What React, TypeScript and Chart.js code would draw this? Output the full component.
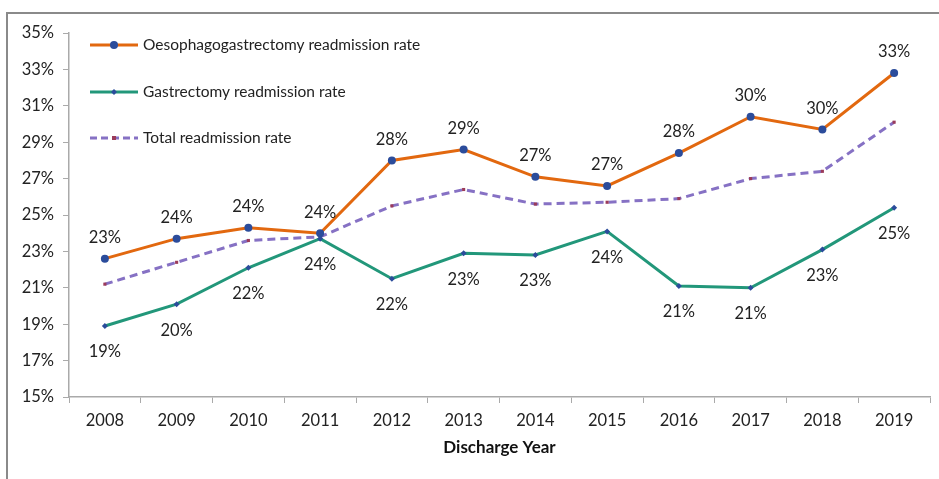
import React, { useEffect, useRef } from "react";
import { Chart, registerables } from "chart.js";

Chart.register(...registerables);

const years = ["2008","2009","2010","2011","2012","2013","2014","2015","2016","2017","2018","2019"];
const oesophago = [22.6, 23.7, 24.3, 24.0, 28.0, 28.6, 27.1, 26.6, 28.4, 30.4, 29.7, 32.8];
const gastrectomy = [18.9, 20.1, 22.1, 23.7, 21.5, 22.9, 22.8, 24.1, 21.1, 21.0, 23.1, 25.4];
const total = [21.2, 22.4, 23.6, 23.8, 25.5, 26.4, 25.6, 25.7, 25.9, 27.0, 27.4, 30.1];
const seriesNames = ["Oesophagogastrectomy readmission rate", "Gastrectomy readmission rate", "Total readmission rate"];

const FONT = "Lato, 'Open Sans', sans-serif";
const ORANGE = "#E2680F";
const GREEN = "#22977A";
const PURPLE = "#8671C4";
const MARKER = "#2B4C9B";
const MARKER2 = "#9B3B5A";

export default function App() {
  const ref = useRef<HTMLCanvasElement | null>(null);
  useEffect(() => {
    document.body.style.margin = "0";
    const framePlugin = {
      id: "frame",
      beforeDraw(chart: any) {
        const ctx = chart.ctx;
        ctx.save();
        ctx.strokeStyle = "#8a8a8a";
        ctx.lineWidth = 2;
        ctx.beginPath();
        ctx.moveTo(7, 479);
        ctx.lineTo(7, 13);
        ctx.lineTo(939, 13);
        ctx.stroke();
        ctx.restore();
      },
    };
    const labelPlugin = {
      id: "labels",
      afterDatasetsDraw(chart: any) {
        const ctx = chart.ctx;
        ctx.save();
        ctx.font = `16.5px ${FONT}`;
        ctx.fillStyle = "#222";
        ctx.textAlign = "center";
        ctx.textBaseline = "middle";
        [0, 1].forEach((di) => {
          const meta = chart.getDatasetMeta(di);
          const data = chart.data.datasets[di].data as number[];
          meta.data.forEach((pt: any, i: number) => {
            const txt = Math.round(data[i]) + "%";
            const y = di === 0 ? pt.y - 21 : pt.y + 26;
            ctx.fillText(txt, pt.x, y);
          });
        });
        ctx.restore();
      },
    };
    const legendPlugin = {
      id: "customLegend",
      afterDraw(chart: any) {
        const ctx = chart.ctx;
        const ys = [45, 92, 138];
        const colors = [ORANGE, GREEN, PURPLE];
        ctx.save();
        ys.forEach((y, i) => {
          ctx.strokeStyle = colors[i];
          ctx.lineWidth = 3;
          ctx.setLineDash(i === 2 ? [7, 4] : []);
          ctx.beginPath();
          ctx.moveTo(90, y);
          ctx.lineTo(138, y);
          ctx.stroke();
          ctx.setLineDash([]);
          if (i === 0) {
            ctx.fillStyle = MARKER;
            ctx.beginPath();
            ctx.arc(114, y, 4, 0, Math.PI * 2);
            ctx.fill();
          } else if (i === 1) {
            ctx.fillStyle = MARKER;
            ctx.beginPath();
            ctx.moveTo(114, y - 3);
            ctx.lineTo(117, y);
            ctx.lineTo(114, y + 3);
            ctx.lineTo(111, y);
            ctx.closePath();
            ctx.fill();
          } else {
            ctx.fillStyle = MARKER2;
            ctx.fillRect(112, y - 2, 4, 4);
          }
          ctx.fillStyle = "#222";
          ctx.font = `15.5px ${FONT}`;
          ctx.textAlign = "left";
          ctx.textBaseline = "middle";
          ctx.fillText(seriesNames[i], 143, y);
        });
        ctx.restore();
      },
    };
    const chart = new Chart(ref.current!, {
      type: "line",
      data: {
        labels: years,
        datasets: [
          {
            label: seriesNames[0],
            data: oesophago,
            borderColor: ORANGE,
            borderWidth: 3,
            pointStyle: "circle",
            pointRadius: 4,
            pointBackgroundColor: MARKER,
            pointBorderColor: MARKER,
            pointBorderWidth: 0,
            tension: 0,
          },
          {
            label: seriesNames[1],
            data: gastrectomy,
            borderColor: GREEN,
            borderWidth: 3,
            pointStyle: "rectRot",
            pointRadius: 3,
            pointBackgroundColor: MARKER,
            pointBorderColor: MARKER,
            pointBorderWidth: 0,
            tension: 0,
          },
          {
            label: seriesNames[2],
            data: total,
            borderColor: PURPLE,
            borderWidth: 3,
            borderDash: [8, 5],
            pointStyle: "rect",
            pointRadius: 2.2,
            pointBackgroundColor: MARKER2,
            pointBorderColor: MARKER2,
            pointBorderWidth: 0,
            tension: 0,
          },
        ],
      },
      options: {
        responsive: false,
        animation: false,
        layout: { padding: { left: 0, top: 33, right: 9, bottom: 0 } },
        plugins: { legend: { display: false }, tooltip: { enabled: false } },
        scales: {
          x: {
            offset: true,
            grid: { display: true, drawOnChartArea: false, offset: true, tickLength: 6, color: "#aaa" },
            border: { color: "#aaa", width: 1.5 },
            ticks: { color: "#222", font: { family: FONT, size: 16.5 }, padding: 8 },
            title: { display: true, text: "Discharge Year", color: "#111", font: { family: FONT, size: 17, weight: "bold" }, padding: { top: 4, bottom: 21 } },
            afterFit(scale: any) { scale.height = 82; },
          },
          y: {
            min: 15,
            max: 35,
            grid: { display: true, drawOnChartArea: false, tickLength: 6, color: "#aaa" },
            border: { color: "#aaa", width: 1.5 },
            ticks: { stepSize: 2, color: "#222", font: { family: FONT, size: 16.5 }, padding: 9, callback: (v: any) => v + "%" },
            afterFit(scale: any) { scale.width = 69; },
          },
        },
      },
      plugins: [framePlugin, labelPlugin, legendPlugin],
    });
    return () => chart.destroy();
  }, []);
  return (
    <div style={{ position: "relative", width: 939, height: 479, background: "#fff" }}>
      <canvas ref={ref} width={939} height={479} style={{ width: 939, height: 479 }} />
    </div>
  );
}
